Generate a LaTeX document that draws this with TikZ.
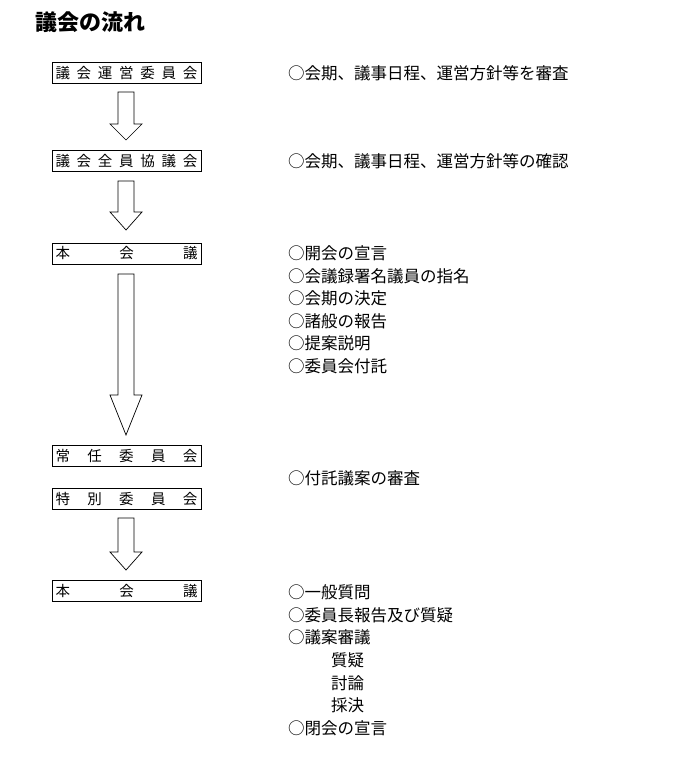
\documentclass[tikz,border=0pt]{standalone}
\usepackage{fontspec}
\setmainfont{Noto Sans CJK JP}
\begin{document}
\begin{tikzpicture}[x=1pt,y=-1pt,
  box/.style={draw,line width=0.9pt,minimum width=149pt,minimum height=21pt,inner sep=0pt,font=\fontsize{14.5}{16}\selectfont},
  txt/.style={anchor=west,inner sep=0pt,font=\fontsize{16.5}{18}\selectfont},
  blk/.style={draw,line width=0.7pt,fill=white}]
\useasboundingbox (0,0) rectangle (690,782);
\node[anchor=west,inner sep=0pt,font=\fontsize{22}{24}\selectfont\bfseries] (title) at (35,22) {議会の流れ};
\newcommand\bx[3]{\node[box] (#1) at (126.5,#2) {\makebox[142pt]{#3}};}
\bx{b1}{73}{議\hfill 会\hfill 運\hfill 営\hfill 委\hfill 員\hfill 会}
\bx{b2}{161}{議\hfill 会\hfill 全\hfill 員\hfill 協\hfill 議\hfill 会}
\bx{b3}{253.5}{本\hfill 会\hfill 議}
\bx{b4}{455.5}{常\hfill 任\hfill 委\hfill 員\hfill 会}
\bx{b5}{499}{特\hfill 別\hfill 委\hfill 員\hfill 会}
\bx{b6}{591}{本\hfill 会\hfill 議}
\newcommand\arr[3]{\draw[blk] (118,#1) -- (134,#1) -- (134,#2) -- (142,#2) -- (126,#3) -- (110,#2) -- (118,#2) -- cycle;}
\arr{92}{124}{140}
\arr{181}{212}{230}
\arr{274}{395}{435}
\arr{518}{552}{570}
\foreach \y/\t/\n in {73/○会期、議事日程、運営方針等を審査/t1,161/○会期、議事日程、運営方針等の確認/t2,
 253/○開会の宣言/t3,276/○会議録署名議員の指名/t4,298/○会期の決定/t5,321/○諸般の報告/t6,343/○提案説明/t7,366/○委員会付託/t8,
 478/○付託議案の審査/t9,592/○一般質問/t10,615/○委員長報告及び質疑/t11,637/○議案審議/t12,728/○閉会の宣言/t13}
  \node[txt] (\n) at (288,\y) {\t};
\foreach \y/\t/\n in {660/質疑/s1,683/討論/s2,705/採決/s3}
  \node[txt] (\n) at (331,\y) {\t};
\end{tikzpicture}
\end{document}
